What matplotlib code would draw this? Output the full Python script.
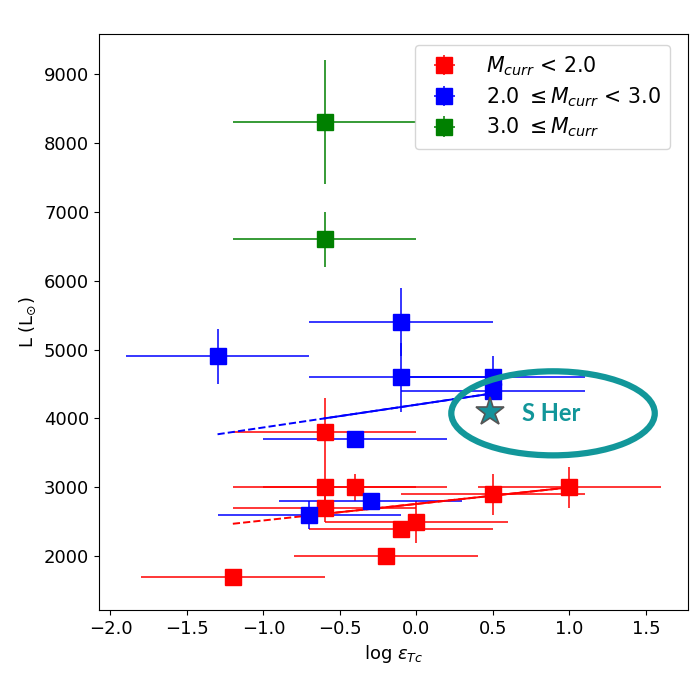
import matplotlib
matplotlib.use("Agg")
import numpy as np
import matplotlib.pyplot as plt
from matplotlib.patches import Ellipse

# stars with M_curr < 2.0
red_x = [-0.6, -0.6, -0.4, -0.6, 0.0, -0.1, -0.2, -1.2, 0.5, 1.0]
red_y = [3800, 3000, 3000, 2700, 2500, 2400, 2000, 1700, 2900, 3000]
red_xerr = [0.6] * len(red_x)
red_yerr = [500, 300, 200, 200, 300, 100, 100, 100, 300, 300]

# 2.0 <= M_curr < 3.0
blue_x = [-1.3, -0.1, -0.1, 0.5, 0.5, -0.4, -0.3, -0.7]
blue_y = [4900, 5400, 4600, 4600, 4400, 3700, 2800, 2600]
blue_xerr = [0.6] * len(blue_x)
blue_yerr = [400, 500, 500, 300, 100, 100, 100, 200]

# 3.0 <= M_curr
green_x = [-0.6, -0.6]
green_y = [8300, 6600]
green_xerr = [0.6, 0.6]
green_yerr = [900, 400]

# linear trends (slope, intercept) and their x ranges
blue_fit = (330, 4200)
blue_fit_dash = (-1.3, 0.5)
blue_fit_solid = (-0.6, 0.5)
red_fit = (240, 2760)
red_fit_dash = (-1.2, 1.0)
red_fit_solid = (-0.6, 1.0)

# S Her annotation
sher_x, sher_y = 0.48, 4090

fig = plt.figure(figsize=(7.0, 6.76), dpi=100)
ax = fig.add_axes([0.1414, 0.0976, 0.8414, 0.852])

groups = [
    (red_x, red_y, red_xerr, red_yerr, 'red', r'$M_{curr}$ < 2.0'),
    (blue_x, blue_y, blue_xerr, blue_yerr, 'blue', r'2.0 $\leq M_{curr}$ < 3.0'),
    (green_x, green_y, green_xerr, green_yerr, 'green', r'3.0 $\leq M_{curr}$'),
]
for gx, gy, gxe, gye, col, lab in groups:
    ax.errorbar(gx, gy, xerr=gxe, yerr=gye, fmt='s', color=col, ms=11,
                mec=col, ecolor=col, elinewidth=1.1, capsize=0, label=lab)

# trend lines: dashed over the full range, solid over the core
for (m, b), dash, solid, col in [(blue_fit, blue_fit_dash, blue_fit_solid, 'blue'),
                                 (red_fit, red_fit_dash, red_fit_solid, 'red')]:
    xd = np.array(dash)
    ax.plot(xd, m * xd + b, '--', color=col, lw=1.4)
    xs = np.array(solid)
    ax.plot(xs, m * xs + b, '-', color=col, lw=1.4)

ax.plot([sher_x], [sher_y], marker='*', ms=21, color='#16929b', mec='#555555',
        mew=1.2, linestyle='none', zorder=5)
ax.add_patch(Ellipse((0.893, 4075), 1.33, 1220, fill=False,
                     edgecolor='#12979a', lw=4.5, zorder=6))
ax.text(0.88, 4070, 'S Her', color='#12969a', fontsize=17, fontweight='bold',
        family=['Lato', 'DejaVu Sans'], ha='center', va='center', zorder=6)

ax.set_xlim(-2.075, 1.775)
ax.set_ylim(1220, 9580)
ax.set_xticks([-2.0, -1.5, -1.0, -0.5, 0.0, 0.5, 1.0, 1.5])
ax.set_yticks([2000, 3000, 4000, 5000, 6000, 7000, 8000, 9000])
ax.tick_params(labelsize=13)
ax.set_xlabel(r'log $\epsilon_{Tc}$', fontsize=13)
ax.set_ylabel(r'L (L$_{\odot}$)', fontsize=13)
ax.legend(loc='upper right', bbox_to_anchor=(0.969, 0.981), borderaxespad=0,
          fontsize=14.8, handletextpad=1.0, borderpad=0.45, labelspacing=0.35)

fig.savefig('out.png', dpi=100)
